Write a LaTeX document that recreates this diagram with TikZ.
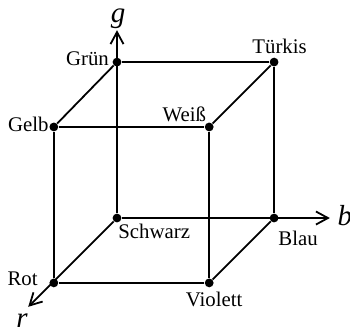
\documentclass[tikz,border=0pt]{standalone}
\usepackage{fontspec}
\setmainfont{Liberation Serif}
\usepackage{tikz}
\usetikzlibrary{arrows.meta, positioning, calc}

\begin{document}
\begin{tikzpicture}[
    dot/.style={circle, fill=black, inner sep=0pt, minimum size=4.4pt},
    lbl/.style={inner sep=0pt, font=\fontsize{10.4}{12}\selectfont},
    axlbl/.style={inner sep=0pt, font=\fontsize{14.5}{16}\selectfont\itshape},
    edge/.style={line width=0.9pt},
    axis/.style={line width=0.9pt, -{Straight Barb[length=6pt, width=6.5pt, line width=0.9pt]}}
]
\useasboundingbox (-2.056,-2.003) rectangle (4.094,3.831);
% back face
\node[dot, label={[lbl, anchor=base west, xshift=0.5pt, yshift=-8pt]below:Schwarz}] (schwarz) at (0,0) {};
\node[dot, label={[lbl, anchor=base west, xshift=2pt, yshift=-11.5pt]below:Blau}] (blau) at (2.76,0) {};
\node[dot, label={[lbl, anchor=base east, xshift=-1.5pt, yshift=-1.5pt]left:Grün}] (gruen) at (0,2.74) {};
\node[dot, label={[lbl, anchor=base, xshift=2.75pt, yshift=1.75pt]above:Türkis}] (tuerkis) at (2.76,2.74) {};
% front face
\node[dot, label={[lbl, anchor=base east, xshift=-5.5pt, yshift=-1.5pt]left:Rot}] (rot) at (-1.11,-1.14) {};
\node[dot, label={[lbl, anchor=base, xshift=2.5pt, yshift=-9.5pt]below:Violett}] (violett) at (1.62,-1.14) {};
\node[dot, label={[lbl, anchor=base east, yshift=-2.5pt]left:Gelb}] (gelb) at (-1.11,1.60) {};
\node[dot, label={[lbl, anchor=base east, xshift=1pt, yshift=2.5pt]left:Weiß}] (weiss) at (1.62,1.60) {};

% axis ends
\coordinate (gtip) at (0,3.30);
\coordinate (btip) at (3.74,0);
\coordinate (rtip) at (-1.56,-1.56);
\node[axlbl, anchor=base] (glbl) at (0.02,3.43) {g};
\node[axlbl, anchor=base west] (blbl) at (3.87,-0.14) {b};
\node[axlbl, anchor=base] (rlbl) at (-1.67,-1.92) {r};

\draw[edge] (gelb) -- (weiss) -- (violett) -- (rot) -- (gelb);
\draw[edge] (gruen) -- (tuerkis) -- (blau);
\draw[edge] (gruen) -- (gelb);
\draw[edge] (tuerkis) -- (weiss);
\draw[edge] (blau) -- (violett);
\draw[axis] (schwarz) -- (gtip);
\draw[axis] (schwarz) -- (btip);
\draw[axis] (schwarz) -- (rtip);
\end{tikzpicture}
\end{document}
